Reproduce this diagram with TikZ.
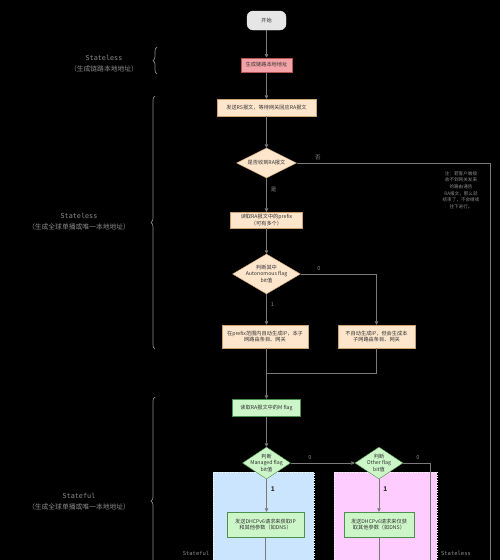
\documentclass[tikz,border=0pt]{standalone}
\usepackage{fontspec}
\setmainfont{Noto Sans CJK SC}
\newfontfamily\monof{DejaVu Sans Mono}
\usetikzlibrary{shapes.geometric,arrows.meta,decorations.pathreplacing}
\definecolor{linegray}{HTML}{7A7A7A}
\definecolor{labgray}{HTML}{8C8C8C}
\definecolor{boxtext}{HTML}{333333}
\definecolor{startfill}{HTML}{E6E6E6}
\definecolor{pinkfill}{HTML}{F4A4A8}
\definecolor{pinkdraw}{HTML}{B85450}
\definecolor{beigefill}{HTML}{FDE6CC}
\definecolor{beigedraw}{HTML}{C9A070}
\definecolor{greenfill}{HTML}{CCF5C8}
\definecolor{greendraw}{HTML}{4D8F4D}
\definecolor{regblue}{HTML}{CCE5FF}
\definecolor{regpink}{HTML}{FFCCFF}
\begin{document}
\begin{tikzpicture}[x=1pt,y=-1pt,
  conn/.style={draw=linegray,line width=0.7pt},
  arr/.style={conn,-{Triangle[length=3.5pt,width=3.5pt]}},
  bx/.style={draw=#1,line width=0.4pt,inner sep=1pt,align=center,text=boxtext,
    font=\fontsize{5.2}{6.4}\selectfont},
  dia/.style={shape=diamond,draw=#1,line width=0.4pt,inner xsep=-16pt,inner ysep=-6pt,
    align=center,text=boxtext,font=\fontsize{5.2}{6.4}\selectfont},
  elabel/.style={text=labgray,font=\fontsize{5.5}{6.5}\selectfont,inner sep=1pt},
  onelabel/.style={text=boxtext,font=\bfseries\fontsize{6.5}{7.5}\selectfont,inner sep=1pt},
  sidelabel/.style={text=labgray,align=center,font=\fontsize{6.8}{11}\selectfont},
  bracest/.style={draw=labgray,line width=0.7pt,decorate,decoration={brace,amplitude=4pt}},
  region/.style={draw=white,dotted,line width=0.5pt,anchor=north west,inner sep=0pt}
]
\fill[black] (0,0) rectangle (500,560);
\useasboundingbox (0,0) rectangle (500,560);
\clip (0,0) rectangle (500,560);

% regions
\node[region,fill=regblue,minimum width=101,minimum height=150] (regA) at (213,472) {};
\node[region,fill=regpink,minimum width=103,minimum height=150] (regB) at (334,472) {};

% nodes
\node[bx=startfill,fill=startfill,rounded corners=6pt,minimum width=39,minimum height=19] (start) at (266.5,20.5) {开始};
\node[bx=pinkdraw,fill=pinkfill,minimum width=51,minimum height=14] (ll) at (266.5,64.7) {生成链路本地地址};
\node[bx=beigedraw,fill=beigefill,minimum width=99,minimum height=17] (rs) at (266.5,107.5) {发送RS报文，等待网关回应RA报文};
\node[dia=beigedraw,fill=beigefill,minimum width=60,minimum height=30] (ra) at (266.5,163) {是否收到RA报文};
\node[bx=beigedraw,fill=beigefill,minimum width=72,minimum height=16] (pfx) at (266.5,220) {读取RA报文中的prefix\\（可有多个）};
\node[dia=beigedraw,fill=beigefill,minimum width=68,minimum height=40] (auto) at (266.5,274) {判断其中\\Autonomous flag\\bit值};
\node[bx=beigedraw,fill=beigefill,minimum width=86,minimum height=23] (genip) at (265,336.5) {在prefix范围内自动生成IP，本子\\网路由条目、网关};
\node[bx=beigedraw,fill=beigefill,minimum width=77,minimum height=23] (nogen) at (376.5,336.5) {不自动生成IP，但会生成本\\子网路由条目、网关};
\node[bx=greendraw,fill=greenfill,minimum width=68,minimum height=17] (mflag) at (266.5,407.5) {读取RA报文中的M flag};
\node[dia=greendraw,fill=greenfill,minimum width=48,minimum height=32] (mng) at (266.5,463) {判断\\Managed flag\\bit值};
\node[dia=greendraw,fill=greenfill,minimum width=48,minimum height=32] (oth) at (379,463) {判断\\Other flag\\bit值};
\node[bx=greendraw,fill=greenfill,minimum width=77,minimum height=25] (dh1) at (265.5,524.5) {发送DHCPv6请求来获取IP\\和其他参数（如DNS）};
\node[bx=greendraw,fill=greenfill,minimum width=70,minimum height=25] (dh2) at (379,524.5) {发送DHCPv6请求来仅获\\取其他参数（如DNS）};

% note
\node[text=labgray,align=center,font=\itshape\fontsize{4.6}{6.6}\selectfont] (note) at (461,190)
  {注：若客户端接\\收不到网关发来\\的路由通告\\RA报文，那么就\\结束了，不会继续\\往下进行。};

% side labels
\node[sidelabel] (lab1) at (104,63.5) {{\monof Stateless}\\（生成链路本地地址）};
\node[sidelabel] (lab2) at (79,222) {{\monof Stateless}\\（生成全球单播或唯一本地地址）};
\node[sidelabel] (lab3) at (79,501.5) {{\monof Stateful}\\（生成全球单播或唯一本地地址）};
\node[text=labgray,align=center,font=\monof\fontsize{5.5}{10}\selectfont] (lab4) at (196,558) {Stateful\\DHCPv6};
\node[text=labgray,align=center,font=\monof\fontsize{5.5}{10}\selectfont] (lab5) at (456,558) {Stateless\\DHCPv6};

% braces
\draw[bracest] (157,74) -- (157,47);
\draw[bracest] (155,349) -- (155,96);
\draw[bracest] (155,605) -- (155,397);

% coordinates
\coordinate (nR) at (490,163);
\coordinate (nRb) at (490,600);
\coordinate (aR) at (376.5,274);
\coordinate (mL) at (266.5,373);
\coordinate (mR) at (376.5,373);
\coordinate (oR) at (430,463);
\coordinate (oRb) at (430,600);
\coordinate (d1b) at (265.5,600);
\coordinate (d2b) at (379,600);

% connectors
\draw[arr] (start) -- (ll);
\draw[arr] (ll) -- (rs);
\draw[arr] (rs) -- (ra);
\draw[conn] (ra.east) -- node[elabel,above=2pt,pos=0.11]{否} (nR) -- (nRb);
\draw[arr] (ra.south) -- node[elabel,right=3pt,pos=0.35]{是} (pfx.north);
\draw[arr] (pfx) -- (auto);
\draw[arr] (auto.east) -- node[elabel,above=2pt,pos=0.24]{0} (aR) -- (nogen.north);
\draw[arr] (auto.south) -- node[elabel,right=3pt,pos=0.35]{1} (auto.south |- genip.north);
\draw[conn] (nogen.south) -- (mR) -- (mL);
\draw[arr] (mflag.north |- genip.south) -- (mflag.north);
\draw[arr] (mflag) -- (mng);
\draw[arr] (mng.east) -- node[elabel,above=2pt,pos=0.3]{0} (oth.west);
\draw[conn] (oth.east) -- node[elabel,above=2pt,pos=0.55]{0} (oR) -- (oRb);
\draw[arr] (mng.south) -- node[onelabel,right=3pt,pos=0.3]{1} (mng.south |- dh1.north);
\draw[arr] (oth.south) -- node[onelabel,right=3pt,pos=0.3]{1} (dh2.north);
\draw[conn] (dh1.south) -- (d1b);
\draw[conn] (dh2.south) -- (d2b);
\end{tikzpicture}
\end{document}
